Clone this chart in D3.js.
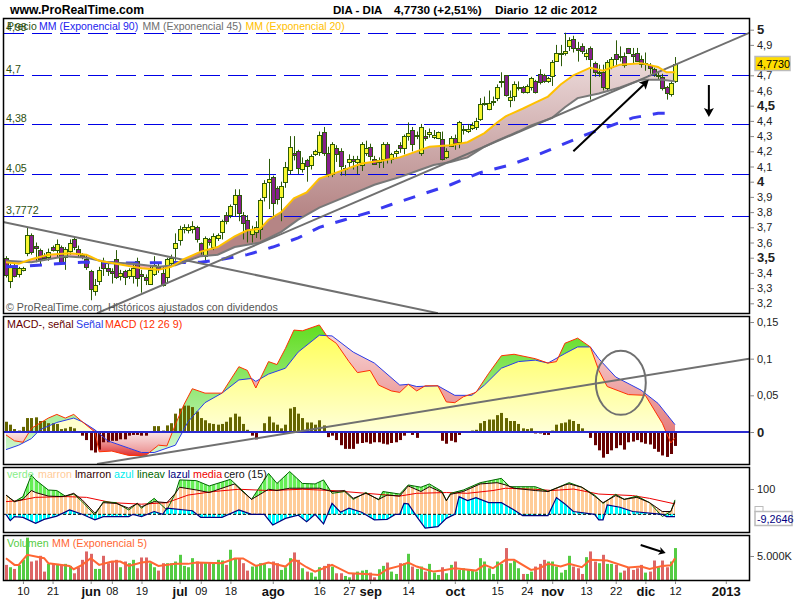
<!DOCTYPE html>
<html>
<head>
<meta charset="utf-8">
<script src="https://cdn.jsdelivr.net/npm/d3@7"></script>
<style>
html, body { margin: 0; padding: 0; background: #fff; }
svg { display: block; }
text { font-family: "Liberation Sans", Arial, sans-serif; }
</style>
</head>
<body>
<svg id="chart" width="800" height="600"></svg>
<script>
'use strict';

// daily candles, one entry per session
const candleOpen = [3.50,3.35,3.43,3.39,3.42,3.53,3.65,3.58,3.55,3.51,3.51,3.57,3.55,3.57,3.51,3.55,3.62,3.56,3.52,3.49,3.41,3.28,3.35,3.47,3.43,3.41,3.49,3.38,3.41,3.38,3.38,3.48,3.39,3.37,3.33,3.39,3.44,3.40,3.37,3.47,
    3.57,3.62,3.69,3.68,3.69,3.70,3.60,3.51,3.62,3.57,3.63,3.67,3.78,3.78,3.85,3.91,3.78,3.75,3.66,3.67,3.69,3.90,4.00,4.03,3.96,3.90,4.00,4.08,4.19,4.20,
    4.08,4.14,4.11,4.18,4.20,4.33,4.19,4.05,4.22,4.20,4.09,4.13,4.15,4.13,4.11,4.19,4.23,4.15,4.13,4.15,4.25,4.15,4.19,4.24,4.22,4.30,4.34,4.31,4.19,4.30,
    4.32,4.30,4.29,4.28,4.16,4.24,4.29,4.26,4.35,4.34,4.35,4.36,4.41,4.52,4.48,4.53,4.55,4.66,4.70,4.54,4.56,4.62,4.62,4.59,4.62,4.66,4.71,4.70,4.66,4.70,
    4.80,4.85,4.85,4.89,4.94,4.88,4.89,4.83,4.88,4.78,4.72,4.72,4.62,4.76,4.84,4.83,4.83,4.88,4.84,4.85,4.81,4.78,4.77,4.74,4.70,4.69,4.62,4.58,4.66];
const candleClose = [3.39,3.44,3.38,3.43,3.43,3.65,3.54,3.57,3.49,3.50,3.54,3.55,3.59,3.47,3.56,3.60,3.57,3.53,3.51,3.44,3.29,3.32,3.42,3.43,3.41,3.40,3.37,3.40,3.37,3.42,3.43,3.37,3.38,3.35,3.42,3.45,3.43,3.32,3.49,3.50,
    3.60,3.69,3.70,3.70,3.71,3.62,3.55,3.63,3.60,3.64,3.65,3.74,3.74,3.84,3.91,3.79,3.73,3.69,3.69,3.70,3.88,3.99,4.02,3.86,3.89,3.97,4.10,4.23,4.18,4.09,
    4.12,4.10,4.17,4.20,4.31,4.19,4.05,4.25,4.18,4.10,4.09,4.15,4.14,4.15,4.25,4.22,4.17,4.12,4.14,4.25,4.15,4.18,4.20,4.22,4.30,4.32,4.25,4.31,4.36,4.29,
    4.33,4.31,4.33,4.15,4.20,4.29,4.26,4.39,4.35,4.35,4.37,4.40,4.51,4.52,4.52,4.53,4.62,4.66,4.57,4.56,4.64,4.62,4.59,4.63,4.68,4.59,4.66,4.66,4.68,4.79,
    4.85,4.85,4.86,4.93,4.88,4.87,4.86,4.85,4.81,4.72,4.72,4.62,4.79,4.81,4.81,4.83,4.77,4.85,4.83,4.80,4.78,4.78,4.75,4.71,4.70,4.62,4.58,4.65,4.773];
const candleHigh = [3.51,3.46,3.46,3.44,3.44,3.70,3.66,3.60,3.56,3.53,3.56,3.58,3.62,3.58,3.57,3.62,3.64,3.58,3.53,3.52,3.42,3.36,3.44,3.50,3.46,3.43,3.55,3.42,3.42,3.43,3.47,3.50,3.42,3.39,3.45,3.51,3.47,3.44,3.50,3.52,
    3.66,3.71,3.72,3.72,3.74,3.71,3.60,3.64,3.63,3.66,3.66,3.75,3.80,3.85,3.95,3.95,3.80,3.78,3.71,3.74,3.89,4.01,4.15,4.04,3.97,4.00,4.13,4.30,4.30,4.21,
    4.16,4.15,4.18,4.21,4.33,4.36,4.23,4.26,4.24,4.22,4.11,4.18,4.17,4.17,4.26,4.27,4.25,4.17,4.16,4.26,4.26,4.19,4.21,4.26,4.31,4.39,4.36,4.33,4.38,4.34,
    4.35,4.34,4.33,4.33,4.22,4.30,4.31,4.40,4.37,4.38,4.39,4.42,4.55,4.56,4.60,4.56,4.64,4.72,4.70,4.60,4.66,4.66,4.63,4.64,4.69,4.67,4.74,4.71,4.69,4.80,
    4.90,4.90,4.98,4.95,4.96,4.92,4.91,4.87,4.89,4.79,4.77,4.77,4.80,4.82,4.93,4.89,4.85,4.88,4.88,4.88,4.83,4.85,4.78,4.75,4.72,4.71,4.63,4.66,4.82];
const candleLow = [3.37,3.30,3.37,3.37,3.41,3.51,3.52,3.47,3.45,3.48,3.48,3.54,3.50,3.46,3.42,3.52,3.55,3.50,3.49,3.42,3.22,3.25,3.32,3.38,3.38,3.33,3.36,3.35,3.32,3.36,3.33,3.31,3.27,3.32,3.33,3.38,3.40,3.31,3.33,3.45,
    3.48,3.58,3.66,3.66,3.66,3.60,3.52,3.48,3.58,3.55,3.61,3.62,3.72,3.76,3.77,3.74,3.62,3.60,3.60,3.63,3.62,3.87,3.82,3.76,3.85,3.74,3.96,4.05,4.14,4.05,
    4.06,4.00,4.08,4.17,4.17,4.17,4.03,4.03,4.13,4.04,4.04,4.09,4.08,4.05,4.07,4.17,4.14,4.11,4.09,4.09,4.12,4.12,4.15,4.19,4.18,4.27,4.20,4.28,4.17,4.27,
    4.29,4.28,4.28,4.14,4.15,4.23,4.21,4.22,4.31,4.32,4.34,4.34,4.40,4.50,4.47,4.50,4.53,4.62,4.56,4.49,4.53,4.60,4.58,4.58,4.60,4.58,4.64,4.65,4.65,4.63,
    4.79,4.76,4.83,4.86,4.85,4.79,4.84,4.80,4.54,4.69,4.69,4.60,4.59,4.74,4.76,4.79,4.75,4.84,4.78,4.79,4.75,4.73,4.71,4.69,4.67,4.60,4.54,4.56,4.65];

// moving averages on the price panel, [session, value]
const ema20 = [[0,3.47],[3,3.46],[6,3.49],[10,3.52],[15,3.53],[19,3.52],[22,3.48],[26,3.46],[32,3.43],[36,3.42],[39,3.44],[42,3.49],[46,3.54],[50,3.57],[54,3.64],[57,3.68],[60,3.69],[62,3.75],[65,3.80],[68,3.89],[71,3.93],[74,4.02],[78,4.06],[84,4.12],[89,4.14],[93,4.16],[96,4.19],[100,4.23],[105,4.24],[109,4.26],[113,4.32],[116,4.39],[118,4.43],[122,4.48],[125,4.52],[128,4.56],[131,4.64],[134,4.70],[138,4.75],[141,4.73],[145,4.77],[150,4.78],[154,4.755],[156,4.72],[158,4.72]];
const ema45 = [[0,3.48],[6,3.47],[14,3.51],[19,3.50],[24,3.47],[30,3.46],[36,3.44],[40,3.45],[46,3.51],[50,3.52],[54,3.57],[60,3.60],[65,3.67],[69,3.75],[74,3.83],[81,3.91],[87,3.98],[93,4.03],[98,4.08],[101,4.11],[105,4.13],[109,4.16],[113,4.23],[116,4.27],[121,4.33],[124,4.37],[129,4.42],[132,4.49],[135,4.55],[140,4.58],[145,4.62],[150,4.67],[155,4.67],[158,4.66]];
const ema90 = [[0,3.44],[5,3.445],[12,3.46],[18,3.47],[30,3.465],[46,3.47],[51,3.49],[57,3.52],[63,3.57],[69,3.63],[74,3.70],[80,3.75],[86,3.80],[91,3.85],[105,3.98],[112,4.06],[119,4.11],[125,4.17],[131,4.24],[137,4.31],[142,4.36],[148,4.42],[154,4.45],[156,4.45]];

// hand drawn things on the chart
const priceLevels = [4.98, 4.7, 4.38, 4.05, 3.7772];
const priceLevelLabels = ['4,98', '4,7', '4,38', '4,05', '3,7772'];
const trendDown = [[-0.7,3.735],[102,3.135]];
const trendUp = [[21.5,3.135],[175.6,4.98]];
const arrowUp = [[134,4.2],[151.8,4.67]];
const arrowDown = [[166,4.636],[166,4.426]];
const macdTrend = [[21.5,-0.0436],[175.6,0.1]];
const macdCircle = [145.2, 0.067];
const volArrow = [[149.9,7290],[155.8,5625]];

// MACD
const macdLine = [[0,-.004],[2,-.012],[4,-.014],[6,.005],[10,.019],[12,.024],[14,.019],[16,.024],[18,.014],[21,0],[22,-.027],[25,-.026],[29,-.032],[33,-.032],[36,-.018],[38,-.019],[40,.010],[42,.037],[44,.059],[47,.053],[51,.053],[55,.089],[57,.084],[59,.060],[62,.096],[64,.092],[66,.114],[68,.139],[70,.138],[74,.146],[76,.129],[78,.121],[81,.096],[83,.081],[86,.084],[88,.064],[91,.056],[93,.054],[95,.065],[97,.056],[99,.063],[102,.063],[104,.041],[106,.040],[108,.048],[111,.054],[114,.080],[117,.104],[120,.106],[125,.100],[128,.094],[130,.096],[132,.121],[135,.128],[138,.116],[140,.084],[142,.062],[147,.051],[151,.050],[155,.012],[157,-.015],[158,-.008]];
const signalLine = [[0,-.024],[3,-.018],[6,-.009],[8,.003],[12,.013],[16,.019],[18,.014],[21,.003],[24,-.012],[29,-.022],[32,-.028],[35,-.028],[40,-.018],[43,.014],[47,.040],[51,.053],[55,.071],[58,.073],[59,.069],[62,.079],[66,.087],[69,.109],[74,.132],[77,.131],[82,.109],[87,.094],[93,.064],[95,.065],[97,.062],[102,.063],[106,.050],[110,.050],[113,.064],[117,.087],[121,.096],[125,.098],[128,.094],[132,.107],[135,.116],[138,.116],[140,.100],[144,.075],[150,.057],[154,.039],[158,.010]];
const macdHist = [.014,.010,.004,.002,.007,.019,.019,.020,.015,.015,.012,.012,.011,.004,.005,.007,.005,0,-.005,-.011,-.025,-.028,-.024,-.014,-.014,-.012,-.012,-.010,-.010,-.005,-.004,-.004,-.005,-.005,0,.008,.008,.002,.009,.012,
    .025,.032,.036,.036,.034,.028,.019,.016,.012,.011,.010,.011,.014,.020,.025,.021,.011,.003,-.005,-.010,0,.012,.021,.013,.010,.005,.010,.032,.034,.025,
    .019,.013,.013,.010,.016,.009,-.007,-.005,-.011,-.018,-.023,-.023,-.023,-.016,-.015,-.014,-.016,-.014,-.014,-.016,-.017,-.015,-.014,-.011,-.005,0,-.004,-.008,0,0,
    0,0,0,-.012,-.016,-.012,-.014,-.004,0,0,.002,.003,.012,.015,.017,.017,.023,.026,.019,.015,.015,.011,.005,.004,.005,-.002,-.002,-.004,-.004,.002,
    .010,.012,.013,.017,.015,.011,.005,0,-.008,-.018,-.025,-.035,-.030,-.025,-.022,-.018,-.024,-.014,-.013,-.011,-.014,-.016,-.017,-.023,-.027,-.032,-.034,-.030,-.019];

// oscillator panel
const verdeLine = [[0,76],[2,50],[4,70],[6,155],[7,136],[10,96],[12,94],[14,72],[16,80],[18,50],[21,-3],[23,50],[26,46],[29,17],[31,43],[32,24],[35,63],[38,17],[40,83],[41,136],[45,133],[48,112],[53,138],[55,107],[58,59],[62,162],[64,122],[67,169],[70,122],[73,120],[75,136],[77,83],[80,90],[82,59],[85,86],[88,57],[89,90],[93,80],[95,116],[98,107],[100,120],[103,90],[104,54],[105,83],[108,96],[112,125],[117,142],[119,109],[125,109],[128,90],[133,125],[136,107],[139,76],[141,43],[144,79],[146,59],[149,72],[152,46],[155,-9],[157,11],[158,57]];
const marronLine = [[0,76],[2,50],[4,59],[6,94],[7,86],[10,72],[13,70],[14,72],[16,83],[18,57],[21,4],[23,46],[26,43],[29,24],[31,43],[32,30],[35,50],[38,46],[40,83],[41,107],[45,96],[48,86],[54,120],[55,103],[58,59],[62,99],[64,94],[67,103],[74,103],[77,90],[80,94],[82,63],[85,83],[88,59],[90,76],[93,72],[95,112],[98,90],[100,109],[103,86],[104,54],[105,79],[108,90],[112,120],[116,125],[118,116],[120,103],[125,94],[128,90],[132,116],[133,120],[136,107],[139,72],[141,46],[144,74],[146,59],[149,67],[152,46],[155,11],[157,11],[158,50]];
const azulLine = [[0,0],[1,-25],[2,-9],[4,-12],[7,-36],[9,-20],[12,-7],[15,17],[18,0],[21,-22],[23,-9],[29,-9],[30,0],[32,-9],[35,11],[37,0],[38,24],[44,14],[46,-12],[51,-12],[55,17],[58,0],[61,0],[63,-42],[66,-16],[69,-3],[71,-29],[73,0],[75,-38],[77,43],[79,8],[81,24],[84,8],[87,-22],[90,-20],[92,0],[93,0],[94,43],[95,41],[97,-9],[99,-55],[102,-49],[104,-16],[106,0],[107,70],[109,54],[111,66],[114,46],[117,46],[120,17],[122,-5],[128,-5],[130,66],[132,41],[134,11],[139,0],[140,-22],[141,-22],[142,37],[145,28],[148,11],[155,0],[156,-9],[158,-9]];
const mediaLine = [[0,50],[3,54],[7,67],[14,70],[19,67],[25,46],[32,40],[38,46],[43,76],[49,90],[55,99],[62,94],[70,99],[77,94],[85,83],[93,72],[97,83],[104,86],[109,83],[115,94],[118,103],[125,99],[129,94],[134,100],[140,80],[148,74],[152,63],[158,41]];

// volume, in thousands
const volume = [3150,2660,2310,3150,4200,8820,3850,4060,5040,1750,3360,3360,3360,3150,3360,2940,1400,2660,4200,5950,5460,2310,2310,5040,3500,3850,4200,2660,3850,3500,4200,2450,4690,4690,3500,2660,1960,3500,3500,3500,
    3850,5250,2940,2660,4550,3850,3640,3640,3640,3640,4200,4060,3150,6300,4550,4550,3500,1960,2800,3150,3500,3500,2450,3850,3500,2100,2660,4550,5740,4200,
    2450,1750,1540,700,2660,2940,3360,2800,1400,1400,840,560,1260,1750,1960,2100,1540,560,2240,2940,3640,1750,1260,3500,3500,5460,2800,2310,2800,1750,
    3360,1540,1050,2660,1400,3150,3850,2100,2450,2100,1960,1750,4550,3850,2450,1260,3850,3360,6650,3500,4060,2450,1260,1260,1750,2800,3360,4200,3850,3850,
    2800,1540,2100,5040,2800,2450,1260,4760,5950,3850,3500,5250,3360,3360,3150,1540,1960,2660,2100,2450,3150,1540,1750,4060,2660,4060,2660,3850,6650];
const volumeMA = [[0,4550],[2,3150],[3,3150],[5,5250],[9,4550],[10,3500],[15,2940],[16,2240],[18,3150],[20,4550],[22,3150],[25,3850],[27,3850],[29,2940],[32,3640],[34,3850],[36,2940],[40,3360],[43,3360],[45,3640],[51,3500],[54,4480],[56,4480],[59,2940],[62,3640],[66,2800],[68,4340],[71,2660],[73,1750],[77,3150],[81,1400],[85,1260],[88,1050],[90,2240],[93,2940],[95,3640],[97,2800],[99,2240],[101,1750],[103,1960],[106,2450],[111,1960],[113,3150],[115,2450],[118,4200],[120,4200],[124,2100],[126,2450],[128,3360],[131,2800],[133,3360],[136,2660],[138,4200],[142,4060],[147,2590],[150,2800],[152,2310],[155,2940],[157,3080],[158,4550]];

// axis ticks
const priceTicks = [5,4.9,4.7,4.6,4.5,4.4,4.3,4.2,4.1,4,3.9,3.8,3.7,3.6,3.5,3.4,3.3,3.2];
const priceBoldTicks = [5,4.5,4,3.5];
const macdTicks = [0.15,0.1,0.05,0];
const oscTicks = [100];
const volTicks = [5000];
const timeTicks = [4,11,20,25,32,41,46,53,63,74,81,86,95,106,116,123,129,137,144,151,158,170];
const timeLabels = ['10','21','jun','08','19','jul','09','18','ago','16','27','sep','14','oct','15','24','nov','13','22','dic','12','2013'];
const timeBold = ['jun','jul','ago','sep','oct','nov','dic','2013'];

const lastPrice = 4.773;
const lastOsc = -9.2646;

const svg = d3.select('#chart');
const defs = svg.append('defs');

const left = 3;
const right = 749;
const panelTop = { price: 18, macd: 316, osc: 467, vol: 535 };
const panelBottom = { price: 313, macd: 464, osc: 532, vol: 580 };

const x = d3.scaleLinear().domain([0, 158]).range([6, 675]);
const yPrice = d3.scaleLinear().domain([3.2, 5]).range([303.3, 29.7]);
const yMacd = d3.scaleLinear().domain([0, 0.15]).range([432, 322]);
const yOsc = d3.scaleLinear().domain([0, 100]).range([514.3, 489]);
const yVol = d3.scaleLinear().domain([0, 5000]).range([580, 556]);

const comma = (v) => String(v).replace('.', ',');

function panelClip(id, name) {
    defs.append('clipPath').attr('id', id).append('rect')
        .attr('x', left)
        .attr('y', panelTop[name])
        .attr('width', right - left)
        .attr('height', panelBottom[name] - panelTop[name]);
}

function gradient(id, y1, y2, stops) {
    const g = defs.append('linearGradient').attr('id', id)
        .attr('gradientUnits', 'userSpaceOnUse')
        .attr('x1', 0).attr('x2', 0).attr('y1', y1).attr('y2', y2);
    stops.forEach((s) => g.append('stop').attr('offset', s[0]).attr('stop-color', s[1]));
}

// clip region between a series and a fixed y
function seriesClip(id, data, y, edge) {
    const area = d3.area().x((d) => x(d[0])).y0(edge).y1((d) => y(d[1]));
    defs.append('clipPath').attr('id', id).append('path').attr('d', area(data));
}

function lineOf(y) {
    return d3.line().x((d) => x(d[0])).y((d) => y(d[1]));
}

function drawLine(parent, data, y, color, width, dash) {
    return parent.append('path')
        .attr('d', lineOf(y)(data))
        .attr('fill', 'none')
        .attr('stroke', color)
        .attr('stroke-width', width)
        .attr('stroke-dasharray', dash || null);
}

function label(parent, px, py, str, color, size, weight) {
    return parent.append('text')
        .attr('x', px)
        .attr('y', py)
        .attr('fill', color)
        .attr('font-size', size || 10.7)
        .attr('font-weight', weight || 'normal')
        .text(str);
}

function arrow(parent, data, y, headLen, headHalf) {
    const a = [x(data[0][0]), y(data[0][1])];
    const b = [x(data[1][0]), y(data[1][1])];
    const angle = Math.atan2(b[1] - a[1], b[0] - a[0]);
    const cos = Math.cos(angle);
    const sin = Math.sin(angle);
    parent.append('line')
        .attr('x1', a[0]).attr('y1', a[1])
        .attr('x2', b[0] - cos * headLen / 2).attr('y2', b[1] - sin * headLen / 2)
        .attr('stroke', '#000').attr('stroke-width', 2);
    const bx = b[0] - cos * headLen;
    const by = b[1] - sin * headLen;
    parent.append('polygon')
        .attr('points', [b, [bx - sin * headHalf, by + cos * headHalf], [bx + cos * 2, by + sin * 2], [bx + sin * headHalf, by - cos * headHalf]].join(' '))
        .attr('fill', '#000');
}

['price', 'macd', 'osc', 'vol'].forEach((name) => panelClip('clip-' + name, name));

gradient('fill-ema', 70, 215, [[0, '#e8d4d4'], [1, '#b58585']]);
gradient('fill-yellow', 330, 432, [[0, '#ffff55'], [1, '#ffffd8']]);
gradient('fill-green', 325, 460, [[0, '#62dd20'], [0.78, '#b8f0b0'], [1, '#d8f8d8']]);
gradient('fill-red', 325, 458, [[0, '#fbe0e0'], [0.795, '#e57f7f'], [0.805, '#f8dcdc'], [1, '#dd2020']]);
gradient('fill-below', 432, 458, [[0, '#fbe6e6'], [1, '#e88080']]);

// ---------- price panel
const pricePanel = svg.append('g').attr('clip-path', 'url(#clip-price)');

const emaBand = d3.line().x((d) => x(d[0])).y((d) => yPrice(d[1]));
pricePanel.append('path')
    .attr('d', emaBand(ema20.filter((d) => d[0] <= 42).concat(ema45.filter((d) => d[0] <= 40).reverse())))
    .attr('fill', '#f59090')
    .attr('opacity', 0.75);
pricePanel.append('path')
    .attr('d', emaBand(ema20.filter((d) => d[0] >= 42).concat(ema45.filter((d) => d[0] >= 40).reverse())))
    .attr('fill', 'url(#fill-ema)');

pricePanel.selectAll('line.level').data(priceLevels).enter().append('line')
    .attr('class', 'level')
    .attr('x1', left + 1)
    .attr('x2', right)
    .attr('y1', (d) => Math.round(yPrice(d)) + 0.5)
    .attr('y2', (d) => Math.round(yPrice(d)) + 0.5)
    .attr('stroke', '#0000e6')
    .attr('stroke-dasharray', '20,8');

const candleIdx = d3.range(candleOpen.length);
pricePanel.selectAll('line.wick').data(candleIdx).enter().append('line')
    .attr('class', 'wick')
    .attr('x1', (i) => Math.round(x(i)) + 0.5)
    .attr('x2', (i) => Math.round(x(i)) + 0.5)
    .attr('y1', (i) => yPrice(candleHigh[i]))
    .attr('y2', (i) => yPrice(candleLow[i]))
    .attr('stroke', '#2c5a08');
pricePanel.selectAll('rect.body').data(candleIdx).enter().append('rect')
    .attr('class', 'body')
    .attr('x', (i) => Math.round(x(i)) - 1.5)
    .attr('width', 4)
    .attr('y', (i) => Math.round(yPrice(Math.max(candleOpen[i], candleClose[i]))) + 0.5)
    .attr('height', (i) => Math.max(1, Math.round(Math.abs(yPrice(candleOpen[i]) - yPrice(candleClose[i])))))
    .attr('fill', (i) => candleClose[i] >= candleOpen[i] ? '#f7f72e' : '#86208c')
    .attr('stroke', '#2c5a08');

drawLine(pricePanel, ema90, yPrice, '#3a3af0', 3, '12,12');
drawLine(pricePanel, ema45, yPrice, '#787878', 2);
drawLine(pricePanel, trendDown, yPrice, '#707070', 2);
drawLine(pricePanel, trendUp, yPrice, '#707070', 2);
drawLine(pricePanel, ema20, yPrice, '#ffc000', 2);

arrow(pricePanel, arrowUp, yPrice, 9, 5);
arrow(pricePanel, arrowDown, yPrice, 9, 5);

priceLevels.forEach((lvl, i) => {
    label(svg, 6, Math.round(yPrice(lvl)) - 2, priceLevelLabels[i], '#2d5010');
});
label(svg, 7, 30, 'Precio', '#2d5010', 10.5);
label(svg, 39, 30, 'MM (Exponencial 90)', '#2222ee', 10.5);
label(svg, 142.5, 30, 'MM (Exponencial 45)', '#6e6e6e', 10.5);
label(svg, 245.5, 30, 'MM (Exponencial 20)', '#ffc000', 10.5);
label(svg, 6, 311, '© ProRealTime.com. Históricos ajustados con dividendos', '#555');

// ---------- MACD panel
const macdPanel = svg.append('g').attr('clip-path', 'url(#clip-macd)');

seriesClip('below-macd', macdLine, yMacd, panelBottom.macd);
seriesClip('above-macd', macdLine, yMacd, panelTop.macd);
seriesClip('below-signal', signalLine, yMacd, panelBottom.macd);
seriesClip('above-signal', signalLine, yMacd, panelTop.macd);

function clippedRect(clipA, clipB, top, bottom, fill) {
    macdPanel.append('g').attr('clip-path', `url(#${clipA})`)
        .append('g').attr('clip-path', `url(#${clipB})`)
        .append('rect')
        .attr('x', left)
        .attr('width', right - left)
        .attr('y', top)
        .attr('height', bottom - top)
        .attr('fill', fill);
}

const zeroY = yMacd(0);
clippedRect('above-macd', 'above-signal', zeroY, panelBottom.macd, 'url(#fill-below)');
clippedRect('below-macd', 'below-signal', panelTop.macd, zeroY, 'url(#fill-yellow)');
clippedRect('below-macd', 'above-signal', panelTop.macd, panelBottom.macd, 'url(#fill-green)');
clippedRect('above-macd', 'below-signal', panelTop.macd, panelBottom.macd, 'url(#fill-red)');

macdPanel.selectAll('rect.hist').data(macdHist).enter().append('rect')
    .attr('class', 'hist')
    .attr('x', (d, i) => Math.round(x(i)) - 1)
    .attr('width', 3)
    .attr('y', (d) => Math.min(yMacd(d), zeroY))
    .attr('height', (d) => Math.abs(yMacd(d) - zeroY))
    .attr('fill', (d) => d >= 0 ? '#666600' : '#660000');

drawLine(macdPanel, signalLine, yMacd, '#2a3ae8', 1);
drawLine(macdPanel, macdLine, yMacd, '#ff3000', 1);
macdPanel.append('line')
    .attr('x1', left).attr('x2', right)
    .attr('y1', zeroY).attr('y2', zeroY)
    .attr('stroke', '#2a2ad0').attr('stroke-width', 2);
drawLine(macdPanel, macdTrend, yMacd, '#707070', 2);
macdPanel.append('ellipse')
    .attr('cx', x(macdCircle[0]))
    .attr('cy', yMacd(macdCircle[1]))
    .attr('rx', 25)
    .attr('ry', 32)
    .attr('fill', 'none')
    .attr('stroke', '#707070')
    .attr('stroke-width', 2);

label(svg, 7, 328, 'MACD-, señal', '#660000');
label(svg, 76, 328, 'Señal', '#2a3ae8');
label(svg, 105, 328, 'MACD (12 26 9)', '#ff3000');

// ---------- oscillator panel
const oscPanel = svg.append('g').attr('clip-path', 'url(#clip-osc)');

seriesClip('under-verde', verdeLine, yOsc, panelBottom.osc);
seriesClip('over-marron', marronLine, yOsc, panelTop.osc);
seriesClip('marron-zero', marronLine, yOsc, yOsc(0));
seriesClip('azul-zero', azulLine, yOsc, yOsc(0));

function stripes(parent, color) {
    parent.selectAll('rect').data(candleIdx).enter().append('rect')
        .attr('x', (i) => Math.round(x(i)) - 1)
        .attr('width', 3)
        .attr('y', panelTop.osc)
        .attr('height', panelBottom.osc - panelTop.osc)
        .attr('fill', color);
}

const greenBand = oscPanel.append('g').attr('clip-path', 'url(#under-verde)')
    .append('g').attr('clip-path', 'url(#over-marron)');
greenBand.append('rect')
    .attr('x', left).attr('width', x(158) - left + 1)
    .attr('y', panelTop.osc).attr('height', panelBottom.osc - panelTop.osc)
    .attr('fill', '#c4f8c4');
stripes(greenBand.append('g'), '#66ee55');

stripes(oscPanel.append('g').attr('clip-path', 'url(#marron-zero)'), '#ffcc99');
stripes(oscPanel.append('g').attr('clip-path', 'url(#azul-zero)'), '#00ffff');

oscPanel.append('line')
    .attr('x1', left).attr('x2', x(158))
    .attr('y1', yOsc(0)).attr('y2', yOsc(0))
    .attr('stroke', '#000').attr('stroke-dasharray', '3,2');
drawLine(oscPanel, mediaLine, yOsc, '#ee0000', 1);
drawLine(oscPanel, verdeLine, yOsc, '#006600', 1);
drawLine(oscPanel, marronLine, yOsc, '#220000', 1);
drawLine(oscPanel, azulLine, yOsc, '#000080', 1.2);

[['verde', 7, '#88ee88'], ['marron', 38, '#ffcc99'], ['lmarron', 75, '#330000'], ['azul', 114, '#00eeee'], ['lineav', 137, '#006600'], ['lazul', 168, '#000080'], ['media', 193, '#ee0000'], ['cero (15)', 224, '#111']]
    .forEach((d) => label(svg, d[1], 478, d[0], d[2]));

// ---------- volume panel
const volPanel = svg.append('g').attr('clip-path', 'url(#clip-vol)');

volPanel.selectAll('rect.vol').data(volume).enter().append('rect')
    .attr('class', 'vol')
    .attr('x', (d, i) => Math.round(x(i)) - 1)
    .attr('width', 3)
    .attr('y', (d) => yVol(d))
    .attr('height', (d) => yVol(0) - yVol(d))
    .attr('fill', (d, i) => candleClose[i] >= candleOpen[i] ? '#55cc44' : '#dd6666');
drawLine(volPanel, volumeMA, yVol, '#ff6633', 2);
arrow(volPanel, volArrow, yVol, 7, 4);

label(svg, 7, 547, 'Volumen', '#55cc44');
label(svg, 52, 547, 'MM (Exponencial 5)', '#ff6633');

// ---------- frames and axes
['price', 'macd', 'osc', 'vol'].forEach((name) => {
    svg.append('rect')
        .attr('x', left + 0.5)
        .attr('y', panelTop[name] + 0.5)
        .attr('width', right - left)
        .attr('height', panelBottom[name] - panelTop[name])
        .attr('fill', 'none')
        .attr('stroke', '#000')
        .attr('stroke-width', 1.5);
});

function rightAxis(y, ticks, format, bold) {
    const g = svg.append('g')
        .attr('transform', `translate(${right + 1},0)`)
        .call(d3.axisRight(y).tickValues(ticks).tickSize(4).tickPadding(3).tickFormat(format));
    g.select('.domain').remove();
    g.selectAll('.tick line').attr('stroke', '#888');
    g.selectAll('.tick text')
        .attr('fill', '#222')
        .attr('font-family', '"Liberation Sans", Arial, sans-serif')
        .attr('font-weight', (d) => bold.includes(d) ? 'bold' : 'normal')
        .style('font-size', (d) => bold.includes(d) ? '13px' : '11px');
    return g;
}

rightAxis(yPrice, priceTicks, comma, priceBoldTicks);
rightAxis(yMacd, macdTicks, comma, [0]);
rightAxis(yOsc, oscTicks, String, []);
rightAxis(yVol, volTicks, () => '5.000K', []);

const timeScale = d3.scaleOrdinal().domain(timeTicks).range(timeTicks.map((d) => x(d)));
const timeAxis = svg.append('g')
    .attr('transform', `translate(0,${panelBottom.vol + 1})`)
    .call(d3.axisBottom(timeScale).tickSize(3).tickPadding(3).tickFormat((d, i) => timeLabels[i]));
timeAxis.select('.domain').remove();
timeAxis.selectAll('.tick line').attr('stroke', '#888');
timeAxis.selectAll('.tick text')
    .attr('fill', '#111')
    .attr('font-family', '"Liberation Sans", Arial, sans-serif')
    .style('font-size', (d, i) => timeBold.includes(timeLabels[i]) ? '13px' : '11px')
    .attr('font-weight', (d, i) => timeBold.includes(timeLabels[i]) ? 'bold' : 'normal');

// last value tags
svg.append('rect')
    .attr('x', 755).attr('y', 56.5)
    .attr('width', 35).attr('height', 14)
    .attr('fill', '#ffdd00').attr('stroke', '#bbb').attr('stroke-width', 1.5);
label(svg, 757, 67.5, comma(lastPrice.toFixed(4)), '#000', 10.8);

svg.append('rect')
    .attr('x', 755).attr('y', 506.5)
    .attr('width', 8).attr('height', 5)
    .attr('fill', '#fff').attr('stroke', '#bbb');
svg.append('rect')
    .attr('x', 755).attr('y', 511.5)
    .attr('width', 37).attr('height', 14)
    .attr('fill', '#fff').attr('stroke', '#bbb').attr('stroke-width', 1.5);
label(svg, 757, 522.5, comma(lastOsc.toFixed(4)), '#000080', 10.8);

// header
label(svg, 10, 14, 'www.ProRealTime.com', '#000', 12.2, 'bold');
label(svg, 333, 14, 'DIA - DIA', '#000', 11.5, 'bold');
label(svg, 394, 14, '4,7730 (+2,51%)', '#000', 11.8, 'bold');
label(svg, 495, 14, 'Diario', '#000', 11.8, 'bold');
label(svg, 534, 14, '12 dic 2012', '#000', 11.8, 'bold');
</script>
</body>
</html>
